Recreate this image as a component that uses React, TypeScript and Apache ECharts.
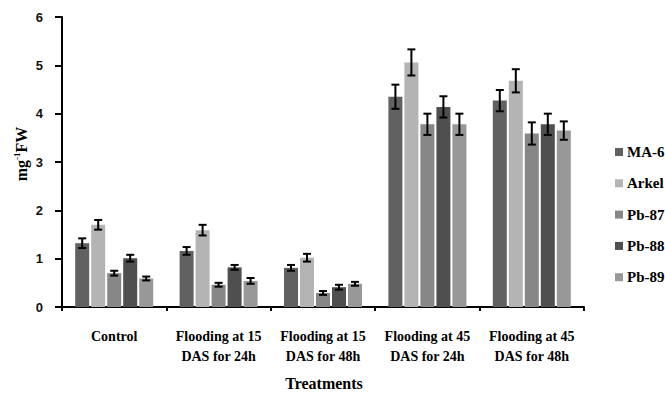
import React, { useEffect, useRef } from "react";
import * as echarts from "echarts";

const categories = [
  "Control",
  "Flooding at 15\nDAS for 24h",
  "Flooding at 15\nDAS for 48h",
  "Flooding at 45\nDAS for 24h",
  "Flooding at 45\nDAS for 48h",
];
const seriesNames = ["MA-6", "Arkel", "Pb-87", "Pb-88", "Pb-89"];
const seriesColors = ["#616161", "#b4b4b4", "#878787", "#4f4f4f", "#989898"];
const ma6 = [1.32, 1.16, 0.81, 4.35, 4.27];
const arkel = [1.70, 1.59, 1.02, 5.06, 4.68];
const pb87 = [0.70, 0.46, 0.29, 3.78, 3.59];
const pb88 = [1.01, 0.82, 0.41, 4.14, 3.78];
const pb89 = [0.59, 0.54, 0.48, 3.78, 3.65];
const ma6Err = [0.10, 0.08, 0.06, 0.25, 0.22];
const arkelErr = [0.10, 0.11, 0.08, 0.27, 0.24];
const pb87Err = [0.05, 0.04, 0.04, 0.22, 0.23];
const pb88Err = [0.07, 0.05, 0.05, 0.22, 0.22];
const pb89Err = [0.04, 0.06, 0.04, 0.22, 0.19];
const yTicks = [0, 1, 2, 3, 4, 5, 6];

const values = [ma6, arkel, pb87, pb88, pb89];
const errors = [ma6Err, arkelErr, pb87Err, pb88Err, pb89Err];

const SERIF = "Liberation Serif";
const SANS = "Liberation Sans";

export default function App() {
  const ref = useRef<HTMLDivElement>(null);
  useEffect(() => {
    if (!ref.current) return;
    const chart = echarts.init(ref.current, undefined, { renderer: "svg" });
    const BAR_W = 14;
    const STEP = 16;
    const barSeries = seriesNames.map((name, i) => ({
      name,
      type: "bar",
      data: values[i],
      barWidth: BAR_W,
      barGap: "14.3%",
      itemStyle: { color: seriesColors[i] },
      z: 2,
    }));
    const errSeries = seriesNames.map((name, i) => ({
      name: "err-" + name,
      type: "custom",
      z: 5,
      data: values[i].map((v, j) => [j, v, errors[i][j]]),
      encode: { x: 0, y: 1 },
      renderItem: (params: any, api: any) => {
        const x = api.value(0);
        const v = api.value(1);
        const e = api.value(2);
        const top = api.coord([x, v + e]);
        const bot = api.coord([x, v - e]);
        const cx = top[0] + (i - 2) * STEP;
        const hw = 4;
        const st = { stroke: "#000", lineWidth: 2 };
        return {
          type: "group",
          children: [
            { type: "line", shape: { x1: cx, y1: top[1], x2: cx, y2: bot[1] }, style: st },
            { type: "line", shape: { x1: cx - hw, y1: top[1], x2: cx + hw, y2: top[1] }, style: st },
            { type: "line", shape: { x1: cx - hw, y1: bot[1], x2: cx + hw, y2: bot[1] }, style: st },
          ],
        };
      },
    }));
    chart.setOption({
      animation: false,
      backgroundColor: "#ffffff",
      grid: { left: 62, right: 81, top: 17, bottom: 89, containLabel: false },
      legend: {
        data: seriesNames,
        orient: "vertical",
        left: 610,
        top: 139,
        icon: "rect",
        itemWidth: 8,
        itemHeight: 8,
        itemGap: 15.3,
        textStyle: {
          fontFamily: SERIF,
          fontWeight: "bold",
          fontSize: 15,
          color: "#000",
          lineHeight: 16,
          padding: [0, 0, 0, -1],
        },
      },
      xAxis: {
        type: "category",
        data: categories,
        axisLine: { lineStyle: { color: "#000", width: 2 } },
        axisTick: { show: true, length: 4, lineStyle: { color: "#000", width: 2 } },
        axisLabel: {
          interval: 0,
          margin: 19,
          fontFamily: SERIF,
          fontWeight: "bold",
          fontSize: 14,
          lineHeight: 20,
          color: "#000",
        },
      },
      yAxis: {
        type: "value",
        min: yTicks[0],
        max: yTicks[yTicks.length - 1],
        interval: 1,
        splitLine: { show: false },
        axisLine: { show: true, lineStyle: { color: "#000", width: 2 } },
        axisTick: { show: true, length: 7, lineStyle: { color: "#000", width: 2 } },
        axisLabel: {
          margin: 19,
          fontFamily: SANS,
          fontWeight: "bold",
          fontSize: 13,
          color: "#111",
        },
      },
      graphic: [
        {
          type: "text",
          x: 21,
          y: 154,
          rotation: Math.PI / 2,
          style: {
            text: "{a|mg}{b|-1}{a|FW}",
            align: "center",
            verticalAlign: "middle",
            rich: {
              a: { fontFamily: SERIF, fontWeight: "bold", fontSize: 16, fill: "#000", lineHeight: 18 },
              b: { fontFamily: SERIF, fontWeight: "bold", fontSize: 9, fill: "#000", verticalAlign: "top", lineHeight: 18 },
            },
          },
        },
        {
          type: "text",
          x: 324,
          y: 383,
          style: {
            text: "Treatments",
            align: "center",
            verticalAlign: "middle",
            fontFamily: SERIF,
            fontWeight: "bold",
            fontSize: 16,
            fill: "#000",
          },
        },
      ],
      series: [...barSeries, ...errSeries],
    });
    return () => chart.dispose();
  }, []);
  return (
    <div
      ref={ref}
      style={{ position: "fixed", left: 0, top: 0, width: 665, height: 396, background: "#fff" }}
    />
  );
}
